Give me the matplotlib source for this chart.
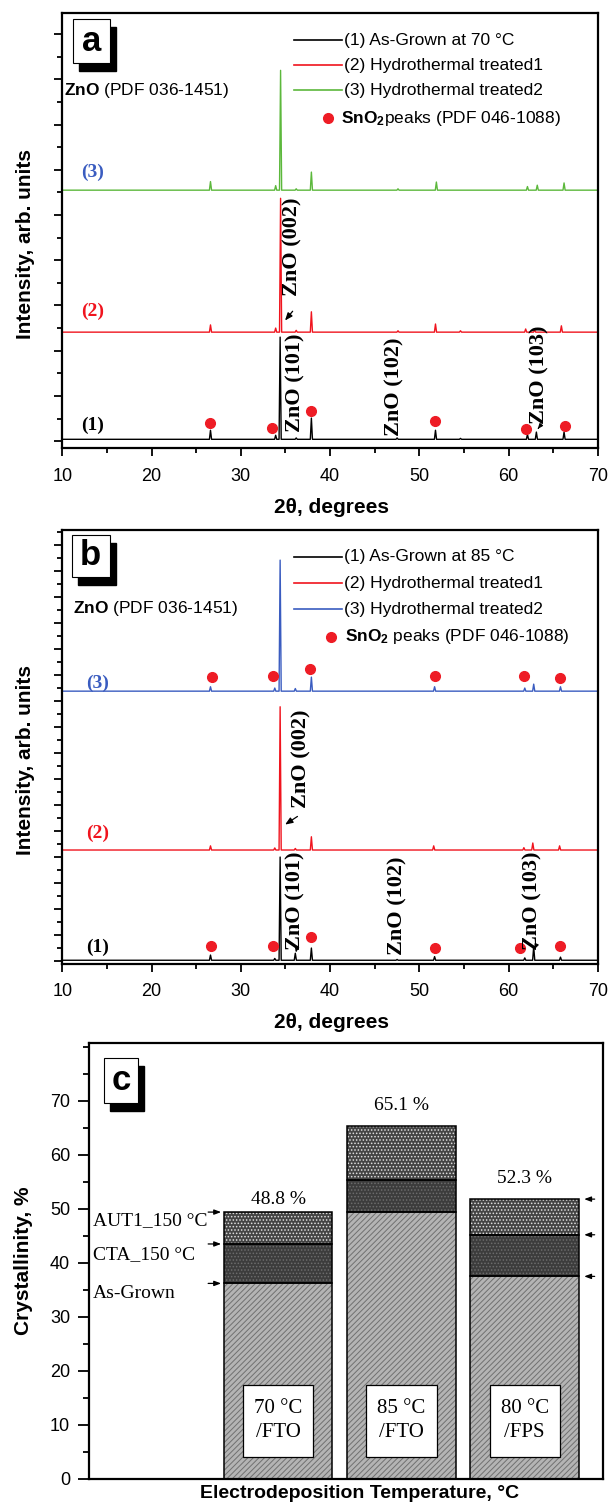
import matplotlib
matplotlib.use('Agg')
import matplotlib.pyplot as plt
from matplotlib import font_manager
from matplotlib.patches import Rectangle
from matplotlib.ticker import MultipleLocator

SANS = 'Liberation Sans'
SERIF = 'Liberation Serif'
try:
    font_manager.findfont('Liberation Sans Narrow', fallback_to_default=False)
    NARROW = 'Liberation Sans Narrow'
    LEG_FS = 14
except Exception:
    NARROW = 'Liberation Sans'
    LEG_FS = 12.5

plt.rcParams['font.family'] = [SANS, 'DejaVu Sans']
plt.rcParams['mathtext.fontset'] = 'custom'
plt.rcParams['mathtext.rm'] = NARROW
plt.rcParams['mathtext.bf'] = SANS + ':bold'
plt.rcParams['hatch.linewidth'] = 0.7

# ---------------- data: panel a (70 C) ----------------
a_baselines = [0.04, 2.41, 5.55]
a1_pos = [26.6, 33.9, 34.4, 36.2, 37.9, 47.5, 51.8, 54.6, 62.1, 63.1, 66.2]
a1_int = [0.24, 0.13, 2.30, 0.07, 0.51, 0.07, 0.24, 0.06, 0.15, 0.20, 0.20]
a2_pos = [26.6, 33.9, 34.45, 36.2, 37.9, 47.6, 51.8, 54.6, 61.9, 62.9, 65.9]
a2_int = [2.57, 2.50, 5.37, 2.45, 2.86, 2.44, 2.59, 2.44, 2.48, 2.46, 2.55]
a3_pos = [26.6, 33.9, 34.45, 36.2, 37.9, 47.6, 51.9, 62.1, 63.2, 66.2]
a3_int = [5.74, 5.65, 8.20, 5.58, 5.95, 5.58, 5.73, 5.63, 5.66, 5.71]
a_sno2_x = [26.55, 33.5, 37.9, 51.8, 61.9, 66.3]
a_sno2_y = [0.40, 0.29, 0.66, 0.45, 0.27, 0.33]
a_legend = ['(1) As-Grown at 70 °C', '(2) Hydrothermal treated1', '(3) Hydrothermal treated2']

# ---------------- data: panel b (85 C) ----------------
b_baselines = [0.03, 4.27, 10.38]
b1_pos = [26.6, 33.8, 34.4, 36.1, 37.9, 47.5, 51.7, 61.8, 62.8, 65.8]
b1_int = [0.23, 0.10, 4.00, 0.30, 0.50, 0.06, 0.17, 0.12, 0.55, 0.15]
b2_pos = [26.6, 33.8, 34.4, 36.1, 37.9, 51.6, 61.7, 62.7, 65.7]
b2_int = [4.43, 4.35, 9.78, 4.33, 4.78, 4.43, 4.36, 4.54, 4.43]
b3_pos = [26.6, 33.8, 34.4, 36.1, 37.9, 51.7, 61.8, 62.8, 65.8]
b3_int = [10.55, 10.50, 15.42, 10.48, 10.92, 10.55, 10.50, 10.65, 10.55]
b_sno2_top_x = [26.8, 33.65, 37.75, 51.75, 61.7, 65.8]
b_sno2_top_y = [10.93, 10.97, 11.22, 10.97, 10.97, 10.90]
b_sno2_bot_x = [26.7, 33.6, 37.9, 51.7, 61.3, 65.8]
b_sno2_bot_y = [0.58, 0.59, 0.93, 0.51, 0.49, 0.59]
b_legend = ['(1) As-Grown at 85 °C', '(2) Hydrothermal treated1', '(3) Hydrothermal treated2']

# ---------------- data: panel c ----------------
categories = ['70 °C\n/FTO', '85 °C\n/FTO', '80 °C\n/FPS']
as_grown = [36.2, 49.5, 37.5]
cta_150 = [43.5, 55.4, 45.2]
aut1_150 = [49.4, 65.4, 51.8]
total_labels = ['48.8 %', '65.1 %', '52.3 %']
layer_names = ['AUT1_150 °C', 'CTA_150 °C', 'As-Grown']

RED = '#f0141e'
GREEN = '#5cb83c'
BLUE = '#3a5cc0'
DOT = '#ee1c25'


def profile(base, pos, tips, hw=0.12):
    xs, ys = [10.0], [base]
    for p, t in sorted(zip(pos, tips)):
        xs += [p - hw, p, p + hw]
        ys += [base, t, base]
    xs.append(70.0)
    ys.append(base)
    return xs, ys


def center_label(lab):
    lab.set_horizontalalignment('center')
    lab.set_verticalalignment('center')


def style_xrd(ax, ylim, xlab_y):
    ax.set_xlim(10, 70)
    ax.set_ylim(*ylim)
    for s in ax.spines.values():
        s.set_linewidth(1.6)
    ax.xaxis.set_major_locator(MultipleLocator(10))
    ax.xaxis.set_minor_locator(MultipleLocator(5))
    ax.yaxis.set_major_locator(MultipleLocator(1))
    ax.yaxis.set_minor_locator(MultipleLocator(0.5))
    ax.tick_params(which='both', direction='out', top=False, right=False, width=1.3)
    ax.tick_params(which='major', length=6)
    ax.tick_params(which='minor', length=3.5)
    ax.tick_params(axis='x', labelsize=13, pad=8)
    ax.set_yticklabels([])
    ax.set_xlabel('2θ, degrees', fontsize=15, fontweight='bold')
    ax.xaxis.set_label_coords(0.503, xlab_y)
    center_label(ax.xaxis.label)
    ax.set_ylabel('Intensity, arb. units', fontsize=15, fontweight='bold')
    ax.yaxis.set_label_coords(-0.068, 0.47)
    center_label(ax.yaxis.label)


def letter_box(ax, x0, y0, x1, y1, letter, dx=0.0112, dy=0.019):
    ax.add_patch(Rectangle((x0 + dx, y0 - dy), x1 - x0, y1 - y0, transform=ax.transAxes,
                           facecolor='black', edgecolor='black', zorder=5, clip_on=False))
    ax.add_patch(Rectangle((x0, y0), x1 - x0, y1 - y0, transform=ax.transAxes,
                           facecolor='white', edgecolor='black', lw=0.8, zorder=6, clip_on=False))
    ax.text((x0 + x1) / 2, (y0 + y1) / 2, letter, transform=ax.transAxes, ha='center',
            va='center', fontsize=25, fontweight='bold', family=SANS, zorder=7)


def legend_block(ax, labels, colors, rows, sno2_text, x_line=(0.432, 0.522), x_text=0.526, x_dot=0.498):
    for lab, col, yy in zip(labels, colors, rows[:3]):
        ax.plot(x_line, [yy, yy], color=col, lw=1.2, transform=ax.transAxes)
        ax.text(x_text, yy, lab, transform=ax.transAxes, va='center', ha='left',
                fontsize=LEG_FS, family=[NARROW, 'DejaVu Sans'])
    ax.plot([x_dot], [rows[3]], 'o', color=DOT, ms=7, transform=ax.transAxes)
    ax.text(x_dot + 0.025, rows[3], sno2_text, transform=ax.transAxes, va='center', ha='left',
            fontsize=LEG_FS, family=[NARROW, 'DejaVu Sans'])


fig = plt.figure(figsize=(6.10, 15.03), dpi=100)

# ================= panel a =================
axa = fig.add_axes([0.1021, 0.7017, 0.8782, 0.2894])
for base, pos, tips, col in [(a_baselines[0], a1_pos, a1_int, 'black'),
                             (a_baselines[1], a2_pos, a2_int, RED),
                             (a_baselines[2], a3_pos, a3_int, GREEN)]:
    xs, ys = profile(base, pos, tips)
    axa.plot(xs, ys, color=col, lw=1.0)
axa.plot(a_sno2_x, a_sno2_y, 'o', color=DOT, ms=7, ls='none')
style_xrd(axa, (-0.16, 9.46), -0.135)
for lab, yy, col in [('(1)', 0.35, 'black'), ('(2)', 2.86, RED), ('(3)', 5.95, BLUE)]:
    axa.text(13.36, yy, lab, ha='center', va='center', fontsize=14, fontweight='bold',
             family=SERIF, color=col)
for lab, xx, yy in [('ZnO (002)', 35.75, 4.29), ('ZnO (101)', 36.1, 1.28),
                    ('ZnO (102)', 47.25, 1.20), ('ZnO (103)', 63.4, 1.46)]:
    axa.text(xx, yy, lab, rotation=90, ha='center', va='center', fontsize=16,
             fontweight='bold', family=SERIF)
axa.annotate('', xy=(34.75, 2.62), xytext=(36.0, 2.92),
             arrowprops=dict(arrowstyle='-|>,head_length=0.45,head_width=0.18', lw=0.9, color='black'))
axa.annotate('', xy=(63.05, 0.22), xytext=(63.5, 0.33),
             arrowprops=dict(arrowstyle='-|>,head_length=0.3,head_width=0.12', lw=0.8, color='black'))
letter_box(axa, 0.0199, 0.8857, 0.089, 0.9869, 'a')
axa.text(0.004, 0.8237, r'$\mathbf{ZnO}$ (PDF 036-1451)', transform=axa.transAxes,
         va='center', ha='left', fontsize=LEG_FS, family=[NARROW, 'DejaVu Sans'])
legend_block(axa, a_legend, ['black', RED, GREEN], [0.9386, 0.881, 0.8237, 0.7593],
             r'$\mathbf{SnO_2}$peaks (PDF 046-1088)', x_dot=0.496)

# ================= panel b =================
axb = fig.add_axes([0.1021, 0.3586, 0.8782, 0.2888])
for base, pos, tips, col in [(b_baselines[0], b1_pos, b1_int, 'black'),
                             (b_baselines[1], b2_pos, b2_int, RED),
                             (b_baselines[2], b3_pos, b3_int, BLUE)]:
    xs, ys = profile(base, pos, tips)
    axb.plot(xs, ys, color=col, lw=1.0)
axb.plot(b_sno2_top_x, b_sno2_top_y, 'o', color=DOT, ms=7, ls='none')
axb.plot(b_sno2_bot_x, b_sno2_bot_y, 'o', color=DOT, ms=7, ls='none')
style_xrd(axb, (-0.115, 16.58), -0.1336)
for lab, yy, col in [('(1)', 0.54, 'black'), ('(2)', 4.92, RED), ('(3)', 10.69, BLUE)]:
    axb.text(13.95, yy, lab, ha='center', va='center', fontsize=14, fontweight='bold',
             family=SERIF, color=col)
for lab, xx, yy in [('ZnO (002)', 36.8, 7.77), ('ZnO (101)', 36.15, 2.31),
                    ('ZnO (102)', 47.5, 2.12), ('ZnO (103)', 62.7, 2.31)]:
    axb.text(xx, yy, lab, rotation=90, ha='center', va='center', fontsize=16,
             fontweight='bold', family=SERIF)
axb.annotate('', xy=(34.7, 5.19), xytext=(36.6, 5.62),
             arrowprops=dict(arrowstyle='-|>,head_length=0.45,head_width=0.18', lw=0.9, color='black'))
axb.annotate('', xy=(36.1, 0.22), xytext=(36.3, 0.55),
             arrowprops=dict(arrowstyle='-|>,head_length=0.3,head_width=0.12', lw=0.8, color='black'))
axb.annotate('', xy=(62.75, 0.35), xytext=(63.1, 0.62),
             arrowprops=dict(arrowstyle='-|>,head_length=0.3,head_width=0.12', lw=0.8, color='black'))
letter_box(axb, 0.0175, 0.8917, 0.089, 0.9885, 'b')
axb.text(0.02, 0.820, r'$\mathbf{ZnO}$ (PDF 036-1451)', transform=axb.transAxes,
         va='center', ha='left', fontsize=LEG_FS, family=[NARROW, 'DejaVu Sans'])
legend_block(axb, b_legend, ['black', RED, BLUE], [0.9385, 0.8772, 0.8173, 0.7541],
             r'$\mathbf{SnO_2}$ peaks (PDF 046-1088)', x_dot=0.502)

# ================= panel c =================
axc = fig.add_axes([0.1467, 0.01597, 0.8418, 0.2901])
xpos = [1, 2, 3]
w = 0.88
cta_inc = [t - b for t, b in zip(cta_150, as_grown)]
aut_inc = [t - b for t, b in zip(aut1_150, cta_150)]
axc.bar(xpos, as_grown, width=w, color='#b4b4b4', hatch='//////', edgecolor='#707070', lw=0)
axc.bar(xpos, cta_inc, bottom=as_grown, width=w, color='#3c3c3c', hatch='.....',
        edgecolor='#6c6c6c', lw=0)
axc.bar(xpos, aut_inc, bottom=cta_150, width=w, color='#444444', hatch='.....',
        edgecolor='#e0e0e0', lw=0)
for heights, bottoms in [(as_grown, [0, 0, 0]), (cta_inc, as_grown), (aut_inc, cta_150)]:
    axc.bar(xpos, heights, bottom=bottoms, width=w, fill=False, edgecolor='black', lw=1.1)

for xx, top, lab in zip(xpos, aut1_150, total_labels):
    axc.text(xx, top + (2.3 if xx == 1 else 3.8), lab, ha='center', va='center',
             fontsize=14, family=[SERIF, 'DejaVu Serif'])
for xx, cat in zip(xpos, categories):
    axc.add_patch(Rectangle((xx - 0.285, 4.1), 0.57, 13.3, facecolor='white',
                            edgecolor='black', lw=0.9, zorder=4))
    axc.text(xx, 10.75, cat, ha='center', va='center', fontsize=15, linespacing=1.35,
             family=[SERIF, 'DejaVu Serif'], zorder=5)

for name, yt, yarrow in zip(layer_names, [47.8, 41.5, 34.4], [aut1_150[0], cta_150[0], as_grown[0]]):
    axc.text(-0.50, yt, name, ha='left', va='center', fontsize=14, family=[SERIF, 'DejaVu Serif'])
    axc.annotate('', xy=(1 - w / 2, yarrow), xytext=(0.41, yarrow),
                 arrowprops=dict(arrowstyle='-|>,head_length=0.4,head_width=0.15', lw=0.9, color='black'))
for yarrow in [aut1_150[2], cta_150[2], as_grown[2]]:
    axc.annotate('', xy=(3 + w / 2 + 0.02, yarrow), xytext=(3.59, yarrow),
                 arrowprops=dict(arrowstyle='-|>,head_length=0.4,head_width=0.15', lw=0.9, color='black'))

letter_box(axc, 0.029, 0.862, 0.095, 0.9656, 'c', dx=0.0117, dy=0.0183)

axc.set_xlim(-0.53, 3.635)
axc.set_ylim(0, 80.7)
axc.set_xticks([])
axc.yaxis.set_major_locator(MultipleLocator(10))
axc.yaxis.set_minor_locator(MultipleLocator(5))
axc.set_yticks([0, 10, 20, 30, 40, 50, 60, 70])
axc.tick_params(axis='y', which='both', direction='out', width=1.3, labelsize=13, pad=6)
axc.tick_params(axis='y', which='major', length=8)
axc.tick_params(axis='y', which='minor', length=4)
for s in axc.spines.values():
    s.set_linewidth(1.6)
axc.set_ylabel('Crystallinity, %', fontsize=15, fontweight='bold')
axc.yaxis.set_label_coords(-0.1276, 0.5)
center_label(axc.yaxis.label)
axc.set_xlabel('Electrodeposition Temperature, °C', fontsize=14, fontweight='bold')
axc.xaxis.set_label_coords(0.525, -0.033)
center_label(axc.xaxis.label)

fig.savefig('out.png', dpi=100)
